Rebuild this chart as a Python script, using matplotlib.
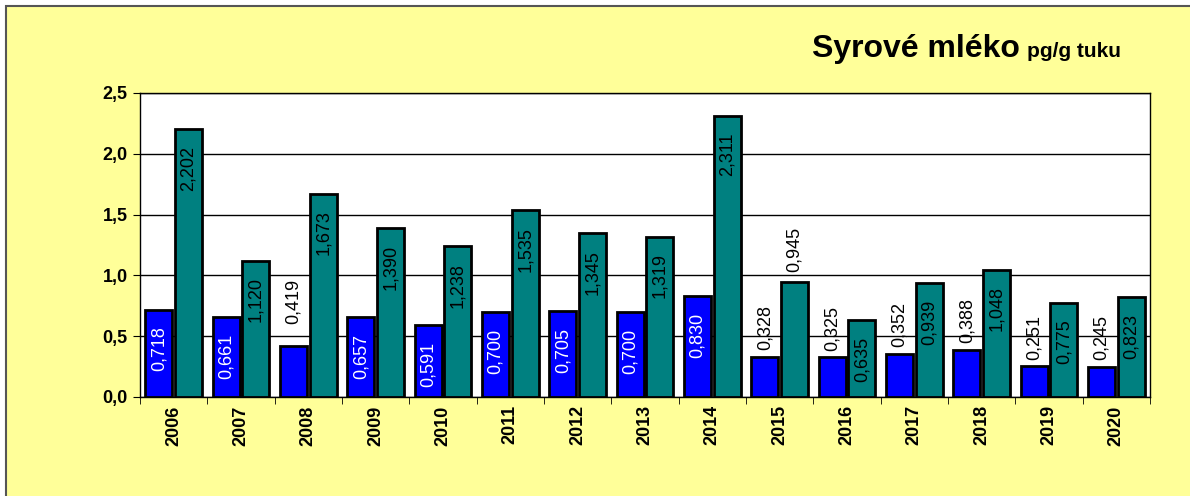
import matplotlib.pyplot as plt
import numpy as np
from matplotlib.patches import Rectangle

plt.rcParams['font.family'] = ['Liberation Sans', 'DejaVu Sans']

years = ['2006', '2007', '2008', '2009', '2010', '2011', '2012', '2013',
         '2014', '2015', '2016', '2017', '2018', '2019', '2020']
blue_vals = [0.718, 0.661, 0.419, 0.657, 0.591, 0.700, 0.705, 0.700,
             0.830, 0.328, 0.325, 0.352, 0.388, 0.251, 0.245]
teal_vals = [2.202, 1.120, 1.673, 1.390, 1.238, 1.535, 1.345, 1.319,
             2.311, 0.945, 0.635, 0.939, 1.048, 0.775, 0.823]

fig = plt.figure(figsize=(11.9, 4.96), dpi=100)
fig.patch.set_facecolor('white')
# yellow chart area with its border
fig.patches.append(Rectangle((6/1190, -0.05), 1.2, 1 - 6/496 + 0.05,
                             transform=fig.transFigure, facecolor='#FFFF99',
                             edgecolor='#555555', linewidth=1.5, zorder=-10))

ax = fig.add_axes([140/1190, 99/496, 1010/1190, 304/496])
ax.set_facecolor('white')

x = np.arange(len(years))
w = 0.4
off = 0.22
ax.bar(x - off, blue_vals, w, color='#0000FF', edgecolor='black', linewidth=2, zorder=3)
ax.bar(x + off, teal_vals, w, color='#008080', edgecolor='black', linewidth=2, zorder=3)

def lab(v):
    return f'{v:.3f}'.replace('.', ',')

for xi, v in zip(x, blue_vals):
    if v > 0.5:
        ax.annotate(lab(v), (xi - off, v), xytext=(0, -12), textcoords='offset points',
                    rotation=90, ha='center', va='top', color='white', fontsize=13, zorder=4)
    else:
        # the 2008 label sits higher in the original
        dy = 16 if years[xi] == '2008' else 5
        ax.annotate(lab(v), (xi - off, v), xytext=(0, dy), textcoords='offset points',
                    rotation=90, ha='center', va='bottom', color='black', fontsize=13, zorder=4)

for xi, v in zip(x, teal_vals):
    if v > 0.6 and v != 0.945:
        ax.annotate(lab(v), (xi + off, v), xytext=(0, -12), textcoords='offset points',
                    rotation=90, ha='center', va='top', color='black', fontsize=13, zorder=4)
    else:
        ax.annotate(lab(v), (xi + off, v), xytext=(0, 7), textcoords='offset points',
                    rotation=90, ha='center', va='bottom', color='black', fontsize=13, zorder=4)

ax.set_xlim(-0.5, len(years) - 0.5)
ax.set_ylim(0, 2.5)
yt = [0.0, 0.5, 1.0, 1.5, 2.0, 2.5]
ax.set_yticks(yt)
ax.set_yticklabels([f'{t:.1f}'.replace('.', ',') for t in yt], fontsize=13, fontweight='bold')
ax.set_xticks(x)
ax.set_xticklabels(years, rotation=90, fontsize=13, fontweight='bold')
ax.set_xticks(np.arange(-0.5, len(years), 1), minor=True)
ax.tick_params(axis='x', which='major', length=0, pad=6)
ax.tick_params(axis='x', which='minor', length=5, direction='out')
ax.tick_params(axis='y', length=5, direction='out', pad=4)
ax.yaxis.grid(True, color='black', linewidth=1, zorder=0)
ax.set_axisbelow(True)
for s in ax.spines.values():
    s.set_color('black')
    s.set_linewidth(1)

fig.text(812/1190, 1 - 57/496, 'Syrové mléko', fontsize=23, fontweight='bold', ha='left', va='baseline')
fig.text(1027/1190, 1 - 57/496, 'pg/g tuku', fontsize=15, fontweight='bold', ha='left', va='baseline')

fig.savefig('out.png', dpi=100)
